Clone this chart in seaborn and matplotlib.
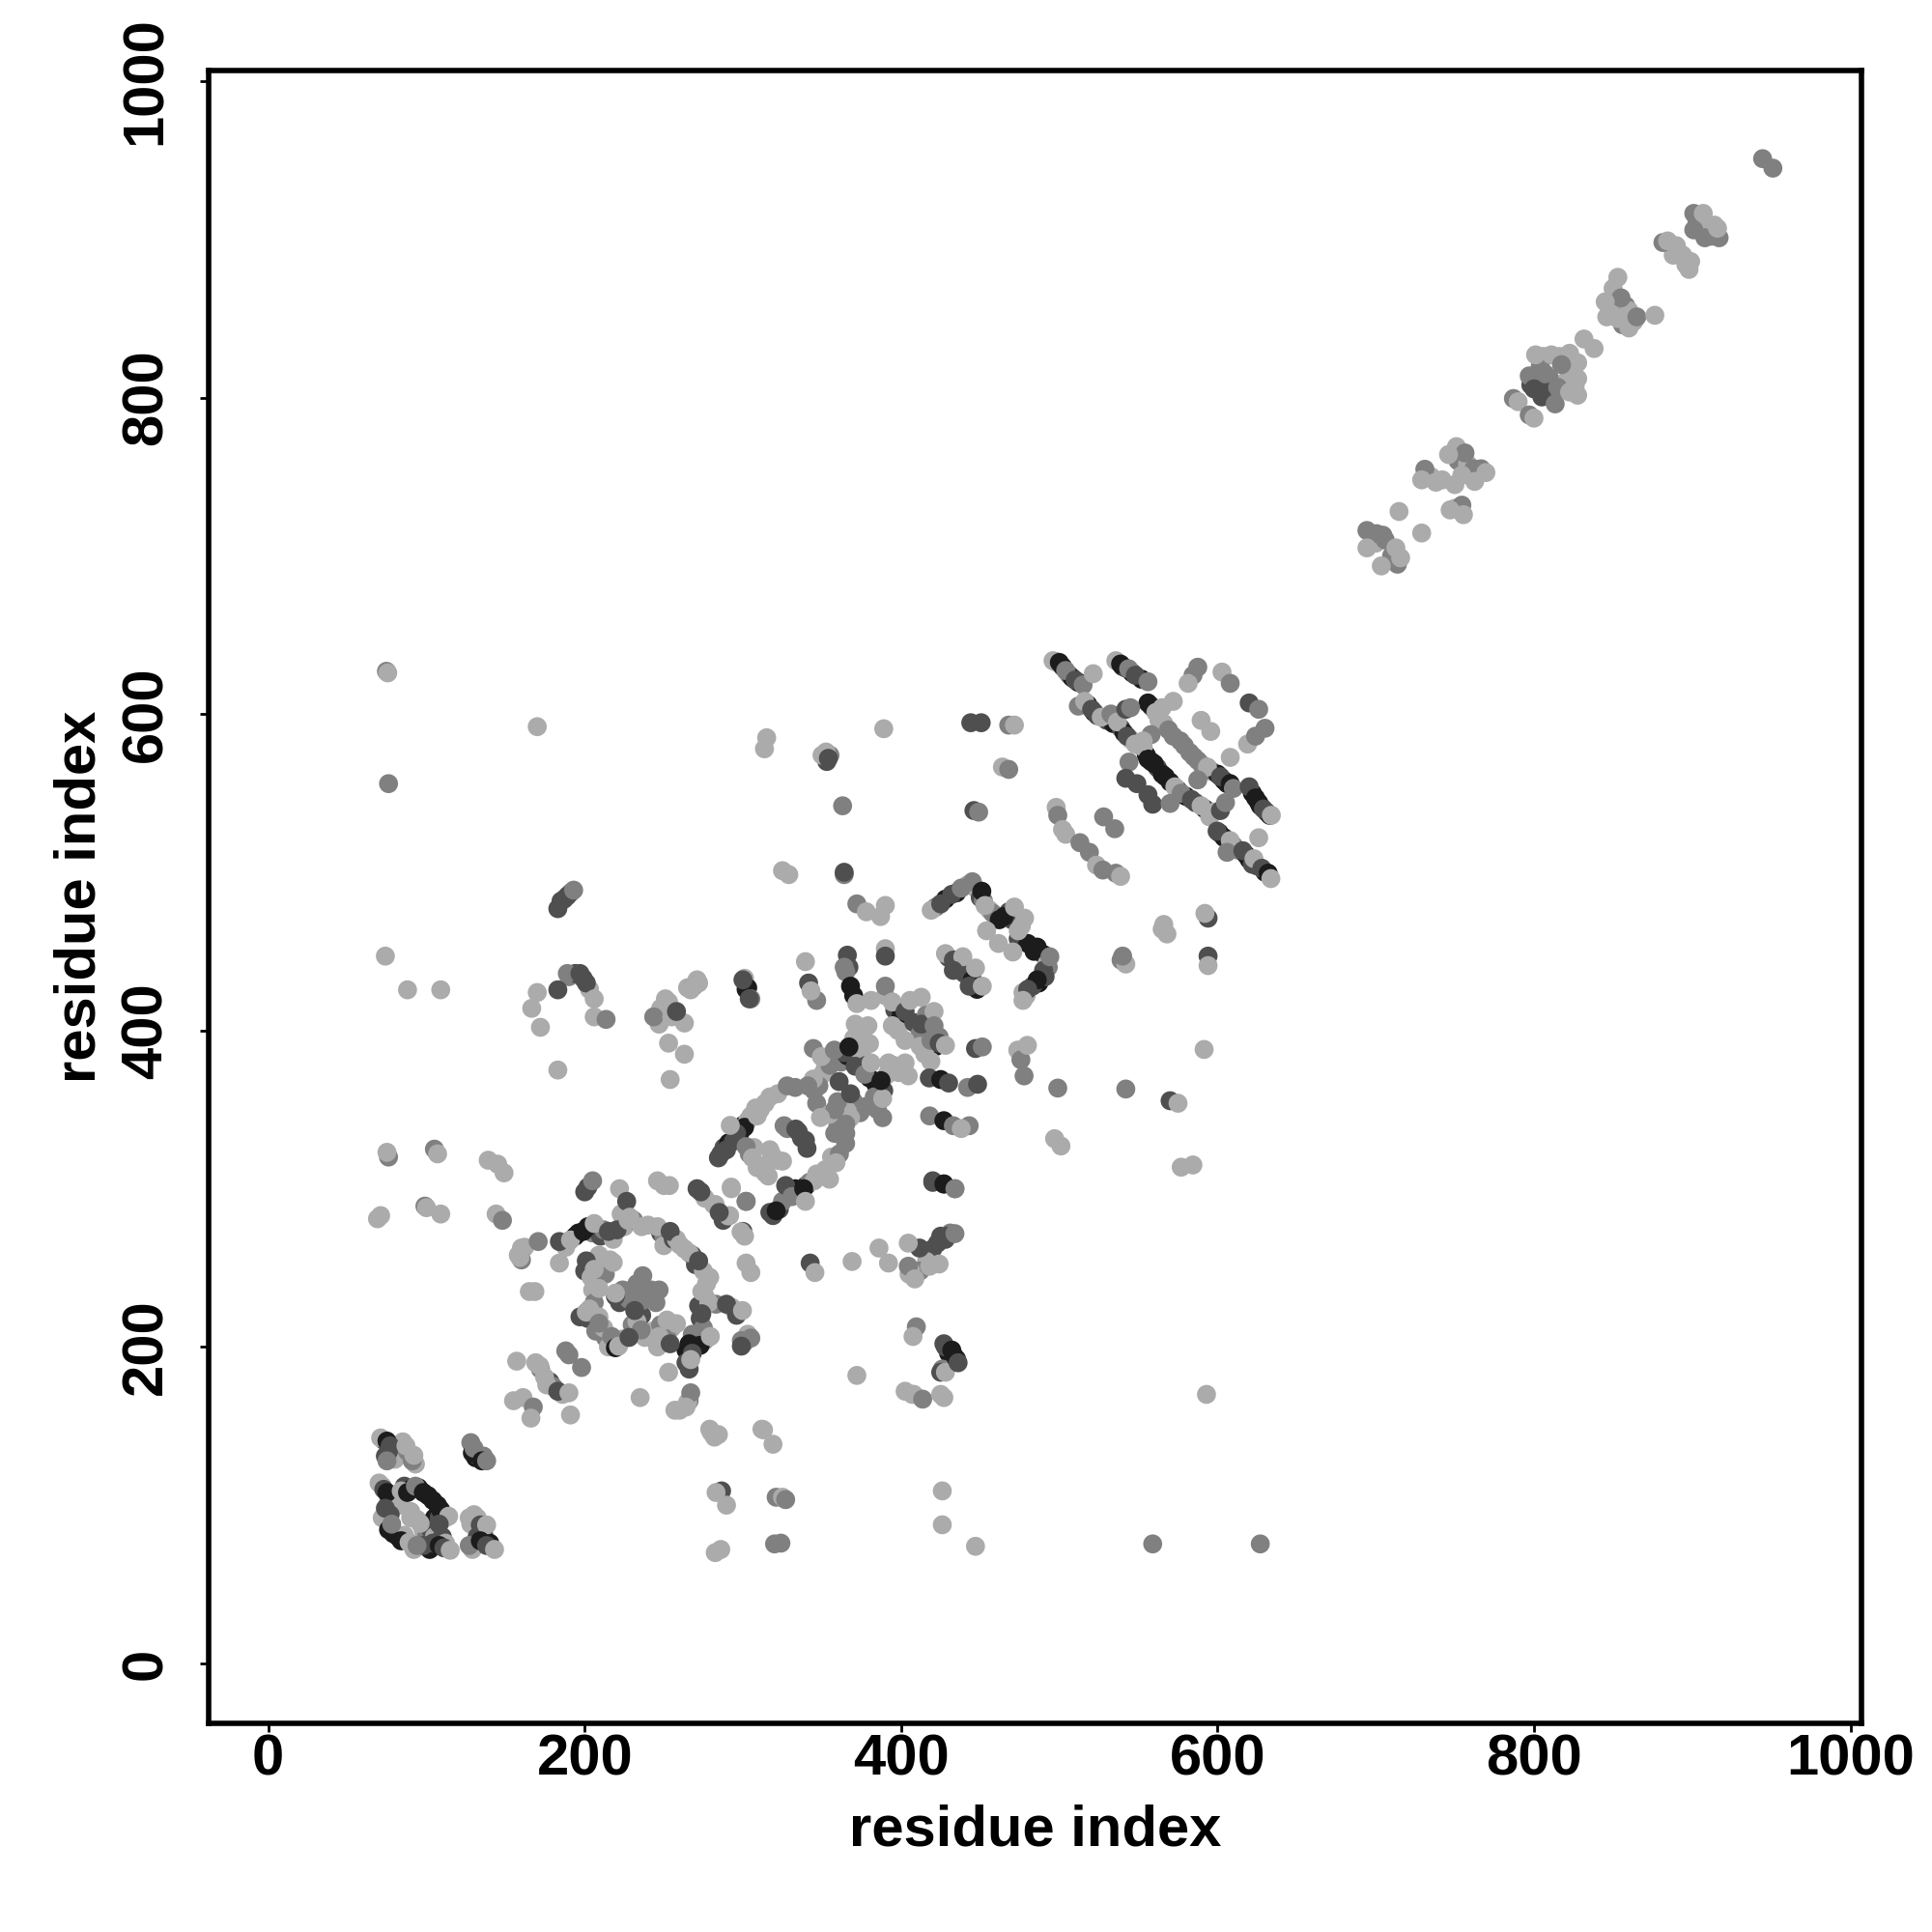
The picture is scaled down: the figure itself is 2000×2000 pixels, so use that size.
import matplotlib
matplotlib.use("Agg")
import matplotlib.pyplot as plt
import pandas as pd
import seaborn as sns

# Grey levels of the points
K, D, M, L = "#1c1c1c", "#4f4f4f", "#808080", "#ababab"

# Each entry: residue i, residue j, grey (drawn in listed order)
under_corner = [(73,141,D),(79,135,K),(74,131,D),(80,129,L),(85,140,L),(88,134,M),(93,126,L),(72,112,L),(78,106,K),(80,104,D),
    (86,112,D),(90,110,K),(95,111,K),(101,106,K),(104,103,K),(110,95,K),(112,92,L),(76,102,M),(80,99,L),(83,100,L),(77,94,D),
    (72,92,L),(79,82,K),(82,80,K),(86,81,L),(90,92,L),(94,91,L),(98,84,L),(100,80,M),(105,92,K),(108,92,D),(103,84,D),(105,80,L),
    (110,80,D),(112,76,L),(102,72,K),(104,76,D),(92,72,L),(130,94,L),(128,88,L),(136,82,K),(132,80,D),(136,80,D),(140,76,K),
    (129,72,L),(131,130,K),(133,131,M),(136,131,M)]

under_ring = [(188,263,L),(194,270,K),(196,272,K),(205,272,M),(210,270,D),(212,274,M),(218,268,L),(223,284,L),(225,276,L),
    (231,280,M),(240,277,L),(248,272,D),(250,270,M),(250,264,L),(256,268,D),(258,268,L),(263,262,L),(268,258,D),(270,252,D),
    (275,248,L),(277,240,L),(276,232,L),(272,226,D),(273,218,D),(275,212,M),(276,204,L),(268,208,M),(266,202,K),(273,201,K),
    (264,198,K),(264,190,D),(283,227,M),(293,225,L),(296,220,D),(303,208,L),(299,204,M),(301,203,M),(200,248,D),(204,244,L),
    (209,258,L),(212,250,L),(213,246,M),(205,236,L),(206,228,M),(202,218,D),(203,224,L),(207,210,M),(213,206,M),(212,212,L),
    (215,200,L),(224,205,L),(222,228,D),(224,236,M),(228,230,M),(233,240,M),(242,236,M),(243,232,M),(236,220,D),(230,214,M),
    (238,206,L),(233,216,L),(243,210,L),(248,214,M),(255,212,L),(246,200,L),(252,206,M),(158,258,L),(162,263,L),(160,255,M),
    (250,302,L),(178,178,D),(180,175,M),(186,170,L),(172,186,M),(176,176,L),(190,195,M),(169,190,L),(266,166,M),(260,160,L),
    (265,165,L),(279,148,L),(282,143,L),(427,168,L),(408,170,L)]

under_helix = [(286,322,D),(288,326,D),(291,329,K),(294,330,D),(298,335,K),(300,340,K),(303,343,L),(305,346,L),(311,350,L),
    (314,354,L),(322,360,L),(333,364,M),(319,283,D),(323,287,D),(325,292,M),(329,297,M),(333,300,K),(336,298,K),(340,302,K),
    (342,304,M),(345,305,L),(350,308,L),(352,312,L),(356,320,L),(361,322,M),(365,335,M),(358,335,M),(304,322,M),(307,326,L),
    (312,314,L),(314,310,L),(318,322,L),(322,318,L),(328,338,M),(335,336,D),(337,332,D),(345,362,M),(350,372,L),(352,376,L),
    (348,365,M),(355,378,M),(362,380,M),(366,384,K),(364,386,D),(370,395,L),(375,398,L),(372,390,L),(375,385,L),(378,378,D),
    (380,370,K),(384,366,K),(391,372,L),(395,378,L),(389,362,D),(383,358,M),(378,352,M),(374,348,M),(385,350,M),(370,355,M),
    (366,349,L),(362,344,M),(360,340,M),(390,422,L),(396,413,D),(400,410,K),(398,400,L),(408,405,D),(412,398,M),(416,410,M),
    (420,395,D),(422,390,K),(424,396,M),(415,385,L),(412,390,L)]

under_arc = [(422,478,M),(428,483,K),(435,487,K),(442,492,L),(447,490,L),(450,484,D),(452,482,M),(456,476,L),(458,474,M),
    (462,470,K),(468,475,D),(470,470,D),(476,466,L),(474,458,D),(480,455,K),(484,450,K),(490,448,K),(492,442,L),(493,440,M),
    (490,438,D),(487,430,K),(483,428,D),(477,424,L),(479,422,L),(430,446,D),(436,442,K),(440,436,D),(445,432,K),(448,426,K),
    (425,270,D),(431,272,M),(428,268,D),(420,262,D),(416,254,L),(412,248,M),(406,248,L),(405,246,L),(430,196,K),(433,195,K),
    (428,200,D),(426,186,M),(187,483,D),(191,487,M),(190,434,M),(194,436,D),(199,433,D),(203,426,L),(248,414,L),(253,418,L),
    (250,408,L),(247,404,L),(265,427,L),(269,428,M),(270,430,L),(367,440,D),(365,437,M),(302,426,K),(355,574,M),(353,570,D),
    (350,574,L)]

under_strands = [(498,633,D),(502,630,K),(506,625,M),(508,623,K),(512,620,K),(518,606,K),(522,601,K),(524,599,D),(530,596,D),
    (534,594,K),(539,591,D),(541,588,K),(545,584,L),(551,580,M),(555,574,K),(558,570,K),(562,566,D),(565,562,K),(570,557,K),
    (575,552,D),(580,548,K),(586,544,D),(592,540,K),(595,535,L),(540,630,K),(542,629,D),(546,626,K),(552,622,K),(558,605,K),
    (560,603,K),(566,594,L),(572,586,M),(579,580,M),(585,573,M),(590,568,M),(596,564,M),(600,562,K),(604,558,K),(606,556,K),
    (622,550,K),(626,544,K),(627,542,K),(631,538,D),(633,536,K),(601,525,K),(604,522,K),(610,517,M),(613,514,M),(618,511,K),
    (620,508,K),(625,504,D),(630,500,K),(622,505,D)]

under_diagonal = [(903,912,M),(905,906,L),(910,905,L),(912,902,M),(914,909,L),(888,890,L),(894,890,L),(896,884,L),(850,869,L),
    (850,862,L),(858,858,M),(848,856,L),(860,855,L),(856,846,M),(863,848,L),(806,826,L),(816,826,L),(824,820,L),(826,807,L),
    (804,820,M),(810,812,M),(806,808,D),(798,808,D),(812,800,M),(818,806,L),(821,811,L),(700,708,L),(706,710,M),(710,700,M),
    (735,750,L),(742,748,L),(750,745,L),(752,760,M),(758,758,L),(762,755,M),(750,730,L)]

corner_low = [(71,142.5,L),(75,140.5,K),(77,137.5,D),(76,134,D),(75,128,M),(87,137.5,L),(91,128,M),(92,131.5,L),
    (128,139.5,M),(129,133,K),(130,136,M),(135,128,K),(138,128,M),(70,114,L),(73,110,D),(75,108,K),(84,109,L),
    (88,108,K),(93,112,M),(98,108,K),(107,100,K),(109,97,K),(114,93,L),(90,96,L),(74,98,D),(76,84.5,K),(78,88,M),
    (96,88.5,L),(108,88,D),(84,77.5,K),(89,76.5,L),(98,74.5,D),(94,74.5,M),(108,74.5,K),(111,73,D),(115,71.5,L),
    (127,92,L),(132,92,L),(134,87.5,D),(138,87.5,L),(127,74.5,M),(134,77.5,K),(138,74.5,D),(143,72,L)]

left_side = [(74.7,627,M),(75.5,626,L),(76,556,M),(74,447,L),(88,425.7,L),(109,425.7,L),(76,320,M),(75,323,L),
    (105,325,M),(107,322,L),(71,283,L),(69,281,L),(99,289,M),(100,288,L),(109,284,L),(144,284,L),(148,280,M),
    (139,318,L),(145,315.5,L),(149,310,L),(170,592,L),(166.5,414,L),(170,424,L),(172,402,L),(183,375,L),
    (254,369,L),(160,262.5,L),(159,256.5,L),(170.6,266.6,M),(184,253,L),(168.5,235,L),(165,235,L)]

ring_200 = [(200,298,D),(202,301,D),(205,305,M),(222,300,L),(226.5,292,D),(228.5,282,L),(236,276,L),(246,305,L),
    (253.5,302,L),(271,300,D),(276,294,L),(281.5,290,L),(292.6,301,L),(302,292,M),(287.5,280,D),(291.6,283,L),
    (300,273,D),(301,270,L),(184,266.6,D),(191,267.6,L),(199,273,K),(202,276,K),(206,278,L),(215,273,D),
    (220.4,274,D),(227.5,280,L),(201,254.4,D),(206,249,L),(216,255,L),(218,253.4,L),(246,276,L),(254,273,D),
    (260,264.6,L),(266,259.5,L),(272,254.4,D),(279,244,L),(274,235,L),(278.4,228,L),(289.6,227,D),(299.7,223,L),
    (274,221,D),(270,200.5,K),(268,196,D),(279.4,206.6,L),(266,186,D),(267,192,L),(305,205.6,M),(299,200.5,D),
    (236.7,245,M),(247,236,M),(229.6,236,M),(235.7,229,M),(219.4,232,D),(219.4,234,L),(209,237,L),(197,219,D),
    (201,222,L),(209,219,L),(209,215,M),(217,206.6,M),(219.4,199.5,K),(221.4,200.5,L),(231.6,223,D),(235.7,210.7,M),
    (247,206.6,L),(252,217,L),(258,214.7,L),(254,202,D),(245,228,M),(240,232,M),(228,206,D)]

below_200 = [(188,197.5,M),(198,187,M),(157,191,L),(171.6,188,L),(174.6,181,L),(183,172,D),(190,171,L),(155,166,L),
    (161,168,L),(167.5,162,M),(166,155,L),(191,157,L),(235,168,L),(253,184,L),(267,171,M),(264,162,L),(257,160,L),
    (280,146,L),(284.5,144.6,L),(312,148,L),(313,147.6,L),(319,138.5,L),(286.5,109,D),(283,108,L),(289.6,100,L),
    (321,105,M),(325,105,L),(327,103.5,M),(426,109,L),(426,87.6,L),(282.5,70,L),(286,72,L),(320,75.5,M),(324,76,M),
    (447,74,L),(559,75.5,M),(627,75.5,M),(372,182,L),(593,170,L)]

right_200 = [(402.5,172,L),(407,170,L),(413.6,167,M),(425,170,L),(409.6,212.7,M),(407.5,206.6,L),(427,202,D),
    (432,198,K),(425,184,D),(428,184,L),(435,192.4,K),(436,190,D),(386,262.5,L),(392,253,L),(369,254,L),
    (342.5,253,D),(345.5,247,L),(411.6,262.5,D),(404.5,265.6,L),(404.5,251,M),(408.6,243,L),(418,251,L),
    (424,252.4,L),(423,265.6,D),(429,270,D),(434,271.6,M),(305,247,L),(302,253,L),(420,304,D),(427,303,K),(434,300,M)]

helix_300 = [(273.4,298,D),(292.7,300,L),(302,292,M),(282.5,290,L),(290.6,282.8,L),(298.8,272.7,L),(285,285,D),
    (284.5,319.5,D),(289.6,324.6,D),(301,338.8,K),(296,335,D),(292,340,L),(302,326.6,M),(306,319.5,L),(309,346,L),
    (308,351,L),(317,358,L),(328,365,M),(309,313.3,L),(316,308,L),(317,324.6,L),(325,317.4,L),(326,339.8,M),
    (333.4,337.7,D),(339.5,330.6,D),(340.5,325.5,D),(346.6,354,M),(344.5,369.3,L),(341,365,M),(354.7,347,L),
    (359.8,355,M),(368,344.9,L),(365,340.8,M),(364.9,328.6,M),(358.8,316.4,L),(354.7,306,L),(346.6,309.3,L),
    (317,285,D),(321,286,K),(327,302,D),(331,295,M),(338.4,300,K),(339.5,292,L),(388.3,344.9,M),(381,353,M),
    (388.3,357,L),(360.8,367.7,D),(368,360,D),(358,350,M),(349,345,L)]

mid_400 = [(329,498.5,L),(325,501,L),(364,498.5,M),(372,480,M),(378,475,L),(387,472,L),(390,479,L),(301,433,L),
    (303,427,K),(305,420,M),(272,430,L),(267,425.7,L),(339.5,443.5,L),(341.5,430,D),(346.6,419,M),(343,425,L),
    (366,447.6,D),(364,440,M),(390,451.7,L),(390,447,D),(368,428,K),(370,422,K),(372,417,L),(381,419,L),
    (390,428,M),(394.4,418,L),(402.5,412,D),(405.6,419,L),(412.7,421,L),(412.7,404,D),(420.8,412,L),(420.8,403,M),
    (394.4,403,L),(402.5,393.7,L),(418.8,393.7,M),(424,392,D),(428,390.6,L),(447,388.6,D),(451.3,389.6,M),
    (473.7,387.6,L),(475.7,381.5,M),(477.7,371.3,M),(479.8,390.6,L),(418.8,380.5,L),(417.8,370,D),(425,369,K),
    (430,366.8,D),(442,364,M),(448.3,366,D),(499,363.6,M),(542,363,M),(418,346,M),(427,343,K),(433,339.8,M),
    (443,339.8,M),(438,338,L),(497,331.6,L),(501,327,L),(420,305,D),(427,303,K),(434,300,M),(380,391.7,L),
    (371,404,L),(379,403,L),(344.5,388.6,M),(349.6,383.5,L),(357.8,387.6,M),(367,389.6,K),(371,377.4,D),(377,372.3,M),
    (387.3,368.3,K),(381,379.5,L),(392,379.5,L),(398.4,373.4,L),(402.5,379.5,L),(404.5,371.3,L)]

arc_480 = [(419,476,L),(425,480,D),(432,486,D),(438,490,M),(445,494,M),(451,488,K),(453,479,L),(465,472,K),
    (471.6,478,L),(478,471,L),(474,463,L),(454,463,L),(461.5,455,L),(470.6,449.6,L),(486,452.7,K),(494,446.6,M),
    (491,434,D),(486,432,K),(480,426,D),(477,419,L),(428,448.6,L),(433,444.5,D),(439,446.6,L),(433,438,D),
    (447,439.5,L),(443,428,D),(451.3,428,L),(539,444.5,M),(542,442,L),(565,464,L),(568,461,L)]

upper_mid = [(183,477,D),(185,481.7,D),(189,485,D),(193,488.7,M),(183,425.7,D),(189,436,M),(197,436,D),(201,430,D),
    (206,420,L),(206,408.6,L),(213.5,407,M),(243.6,408.6,M),(251,420,L),(255,408.6,L),(263,404.7,L),(258,412,D),
    (253,392,L),(263,385,L),(271,432,L),(300,432,D),(304,420,D),(315,585,L),(313.6,578,L),(352.5,576,L),(354,572,D),
    (363,542,M),(364,500,D),(389,590.7,L),(444,594.5,D),(450.6,594.5,D),(468,593,M),(471.6,593,L),(464,566.5,L),
    (468,565,M),(446,539,D),(449,538,M),(566,467,L),(594,471,D),(592,474,L),(594,447,D),(594,441,L),(540,447,M),
    (591.5,388,L),(570,355.6,D),(575,354,L),(577,313.6,L),(584.4,315,L)]

strands_600 = [(496,633.7,L),(500,632.6,K),(504,627.5,M),(510,621.5,D),(515,618.4,M),(521.4,625.5,L),(512,605,M),
    (516,608,L),(520.4,603,D),(526.5,598,L),(532.6,600,M),(536.7,595,L),(542.8,586,D),(548,581,L),(553,579,L),
    (556,571.6,K),(560,568.6,K),(567,560.4,K),(573,554,L),(577,550,M),(583.5,546,D),(589.6,542,L),(597.7,538,L),
    (535.7,633.7,L),(538.7,631.6,K),(543.8,628.6,M),(548,624.5,D),(556,620.4,M),(556,607,K),(561,601,L),(563,596,L),
    (569,590,M),(576.4,583,M),(582.4,575.7,M),(587.5,570.6,M),(593.6,566.5,L),(601.8,560.4,D),(608,556,K),(610,553,M),
    (620,554,D),(624,547,K),(629,540,D),(634,536,L),(608,572.6,L),(589.6,596,L),(595.7,589,L),(572,608,L),(565,604,L),
    (542,603,D),(545,604,M),(558,587,M),(553,583,L),(584.5,624.5,M),(581.4,619.4,L),(587.5,629.6,M),(602.8,626.5,L),
    (608,619.4,M),(620,607,D),(626,603,M),(619,581,L),(624,586,M),(630,591,M),(544,569.6,M),(542,559.4,D),(549,556,D),
    (556,549,D),(559,543,D),(570,543.5,M),(587.5,558.4,M),(601.8,539,D),(605,544,M),(599.7,526,D),(608,520,L),
    (606,512.6,M),(616,513.6,D),(626,521.8,L),(623,508.6,L),(628,502.5,D),(632,499.4,K),(633.7,496,L),
    (498,541,L),(499,536,M),(502,527,L),(504,524,L),(513,518.7,M),(519,512.6,M),(523.5,504.5,L),(527.5,501.4,M),
    (535.7,499.4,M),(538.7,497.4,L),(528,535,M),(535,527.5,M)]

diagonal_top = [(944.5,951,M),(951,945,M),(901,916.4,M),(907,916.4,L),(901,906,M),(908,901,M),(917,901,M),(916,907,L),
    (881.5,898,M),(884.5,899,L),(890,896,L),(899,886,L),(898,881,L),(853,876,L),(855,863,M),(845,860.5,L),(846,851,L),
    (853,850,L),(860,844,L),(865,851,M),(876.4,852,L),(831.6,837,L),(838,831,L),(801,827,L),(811,827,L),(822.5,828,L),
    (827.6,822,L),(817.4,820.8,M),(807,815,M),(797,813.7,M),(800,805.5,D),(805,800.4,D),(815,806.5,M),(813.4,796,M),
    (822.5,803.5,L),(827.6,801.5,L),(827.6,812,L),(787,799.4,M),(790,797.4,L),(797,789,M),(800,787,L),(751,769,L),
    (756.4,765,M),(746,764,L),(766.6,755,M),(769.6,752.6,L),(762.5,747,L),(754.4,751,L),(731,754.7,M),(729,748,L),
    (738,746.5,L),(754.4,732,M),(747,729,L),(755.4,726,L),(714.7,728,L),(729,714.4,L),(694.4,716,M),(700.5,714,M),
    (704.5,713,M),(694.4,705,L),(712.7,705,L),(713.7,694.7,M),(703.5,693.6,L),(715.7,698.7,L)]

REGIONS = [under_corner, under_ring, under_helix, under_arc, under_strands, under_diagonal,
           corner_low, left_side, ring_200, below_200, right_200, helix_300, mid_400,
           arc_480, upper_mid, strands_600, diagonal_top]

TICKS = [0, 200, 400, 600, 800, 1000]
LABEL = "residue index"

rows = [p for region in REGIONS for p in region]
df = pd.DataFrame(rows, columns=["i", "j", "grey"])

sns.set_theme(style="white")
plt.rcParams["font.family"] = ["Liberation Sans", "DejaVu Sans"]

fig = plt.figure(figsize=(20, 20), dpi=100)
ax = fig.add_axes([216 / 2000, 1 - 1784 / 2000, (1927 - 216) / 2000, (1784 - 73) / 2000])

sns.scatterplot(data=df, x="i", y="j", hue="grey", palette={g: g for g in (K, D, M, L)},
                s=200, linewidth=0, ax=ax, legend=False)

ax.set_xlim(-37.7, 1007)
ax.set_ylim(-37.9, 1006.7)
ax.set_xticks(TICKS)
ax.set_yticks(TICKS)
ax.tick_params(axis="x", direction="out", length=6.5, width=2, color="black", labelsize=43,
               labelcolor="black", bottom=True, pad=1)
ax.tick_params(axis="y", direction="out", length=6.5, width=2, color="black", labelsize=43,
               labelcolor="black", left=True, pad=20)
for lab in ax.get_yticklabels():
    lab.set_rotation(90)
    lab.set_va("center")
    lab.set_fontweight("bold")
for lab in ax.get_xticklabels():
    lab.set_fontweight("bold")
ax.set_xlabel(LABEL, fontsize=43, fontweight="bold", color="black", labelpad=13)
ax.set_ylabel(LABEL, fontsize=43, fontweight="bold", color="black", labelpad=10)
for s in ax.spines.values():
    s.set_visible(True)
    s.set_color("black")
    s.set_linewidth(4)

fig.savefig("out.png", dpi=100, facecolor="white")
